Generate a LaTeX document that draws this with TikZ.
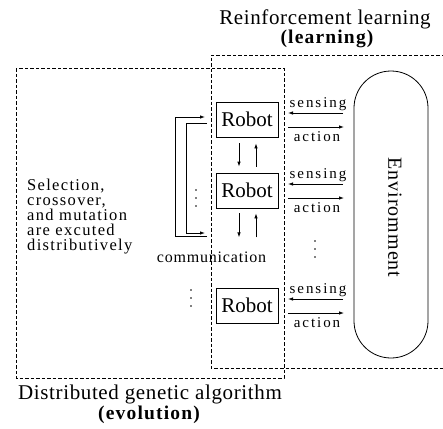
\documentclass[tikz,border=0pt]{standalone}
\usepackage{fontspec}
\setmainfont{Liberation Serif}
\usetikzlibrary{arrows.meta,calc}
\newfontfamily\titlefont{Liberation Serif}[LetterSpace=3]
\newfontfamily\titlebold{Liberation Serif Bold}[LetterSpace=6]
\newfontfamily\leftfont{Liberation Serif}[LetterSpace=8]
\newfontfamily\labfont{Liberation Serif}[LetterSpace=13]
\newfontfamily\commfont{Liberation Serif}[LetterSpace=5]
\newfontfamily\envfont{Liberation Serif}[LetterSpace=5]
\tikzset{
  dbox/.style={line width=0.8pt, dash pattern=on 3.5pt off 2pt},
  robotbox/.style={draw, line width=0.8pt, minimum width=62pt, minimum height=35pt, inner sep=0pt, font=\fontsize{21}{24}\selectfont},
  envbox/.style={draw, line width=0.8pt, rounded corners=37pt, minimum width=74pt, minimum height=287pt, inner sep=0pt, font=\envfont\fontsize{20}{24}\selectfont},
  arr/.style={line width=0.8pt, -{Latex[length=5pt,width=3.5pt]}},
  lab/.style={inner sep=0pt, anchor=base, font=\labfont\fontsize{15}{18}\selectfont},
  dot/.style={circle, fill, inner sep=0pt, minimum size=1.8pt},
}
\begin{document}
\begin{tikzpicture}[x=1pt,y=-1pt]
\useasboundingbox (0,0) rectangle (443,428);
% titles
\node[inner sep=0pt, anchor=base, font=\titlefont\fontsize{21}{24}\selectfont] (rltitle) at (325,24.5) {Reinforcement learning};
\node[inner sep=0pt, anchor=base, font=\titlebold\fontsize{19.5}{24}\selectfont] (rlsub) at (327,44) {(learning)};
\node[inner sep=0pt, anchor=base, font=\titlefont\fontsize{21}{24}\selectfont] (gatitle) at (150,399) {Distributed genetic algorithm};
\node[inner sep=0pt, anchor=base, font=\titlebold\fontsize{19.5}{24}\selectfont] (gasub) at (149,419) {(evolution)};
% dashed boxes
\draw[dbox] (16,68) rectangle (284,378);
\draw[dbox] (445,55) -- (211,55) -- (211,368) -- (445,368);
% left text (base anchor = last line)
\node[inner sep=0pt, anchor=base west, align=left, font=\leftfont\fontsize{16.5}{15}\selectfont] (gatext) at (27,250) {Selection,\\crossover,\\and mutation\\are excuted\\distributively};
% robots
\node[robotbox] (r1) at (247,119.5) {Robot};
\node[robotbox] (r2) at (247,190.5) {Robot};
\node[robotbox] (r3) at (247,305.5) {Robot};
% environment
\node[envbox] (env) at (391,214.5) {\hspace*{8pt}\raisebox{-6pt}{\rotatebox{-90}{Enviromment}}};
% communication arrows between robots
\draw[arr] ($(r1.south)+(-8,6)$) -- ($(r2.north)+(-8,-6)$);
\draw[arr] ($(r2.north)+(9,-6)$) -- ($(r1.south)+(9,6)$);
\coordinate (c2a) at ($(r2.south)+(-8,29)$);
\coordinate (c2b) at ($(r2.south)+(9,29)$);
\draw[arr] ($(r2.south)+(-8,5)$) -- (c2a);
\draw[arr] (c2b) -- ($(r2.south)+(9,5)$);
\node[inner sep=0pt, anchor=base, font=\commfont\fontsize{16}{18}\selectfont] (comm) at (211.5,262) {communication};
% left loop arrows
\coordinate (lo1) at (207,236);
\coordinate (lo2) at (205,117);
\coordinate (li1) at (207,123);
\coordinate (li2) at (205,233);
\draw[arr] (lo1) -- (175,236) -- (175,117) -- (lo2);
\draw[arr] (li1) -- (186,123) -- (186,233) -- (li2);
% dots
\foreach \i/\x/\y in {a/196/190, b/191/290, c/315/241}{
  \node[dot] (d\i1) at (\x,\y) {};
  \node[dot] (d\i2) at (\x,\y+8) {};
  \node[dot] (d\i3) at (\x,\y+16) {};
}
% sensing / action
\foreach \r in {1,2,3}{
  \coordinate (se\r) at ($(r\r.center)+(96,-6.5)$);
  \coordinate (sr\r) at ($(r\r.center)+(41,-6.5)$);
  \coordinate (ar\r) at ($(r\r.center)+(41,7.5)$);
  \coordinate (ae\r) at ($(r\r.center)+(97,7.5)$);
  \draw[arr] (se\r) -- (sr\r);
  \draw[arr] (ar\r) -- (ae\r);
  \node[lab] (st\r) at ($(r\r.center)+(71,-12)$) {sensing};
  \node[lab] (at\r) at ($(r\r.center)+(70,22)$) {action};
}
\end{tikzpicture}
\end{document}
